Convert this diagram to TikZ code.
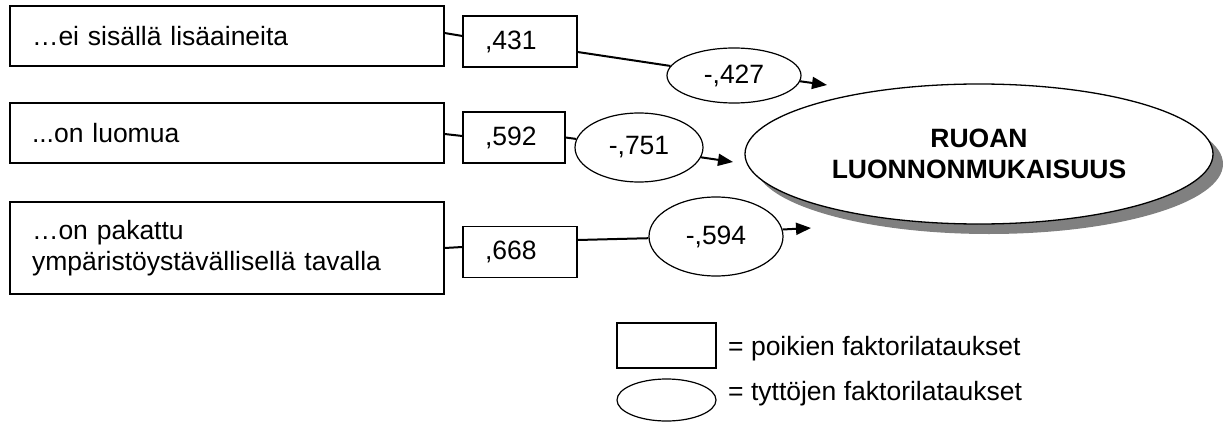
\documentclass[tikz,border=0pt]{standalone}
\usepackage{fontspec}
\setmainfont{Liberation Sans}
\usetikzlibrary{shapes.geometric,arrows.meta,shadows}
\begin{document}
\begin{tikzpicture}[x=1pt,y=-1pt,
  every node/.style={font=\fontsize{26.5}{31}\selectfont},
  itembox/.style={draw,line width=1.2pt,minimum width=434pt,inner xsep=22pt,
    text width=390pt,align=left,inner ysep=0pt},
  boybox/.style={draw,line width=1.2pt,minimum height=51pt,inner xsep=22pt,
    align=left,inner ysep=0pt},
  girlell/.style={draw,ellipse,line width=1.2pt,inner sep=0pt},
  link/.style={line width=2pt},
  path/.style={line width=2pt,-{Triangle[length=15pt,width=12pt]}}]
\useasboundingbox (0,0) rectangle (1225,425);

% statements
\node[itembox,minimum height=60pt] (b1) at (227,36) {…ei sisällä lisäaineita};
\node[itembox,minimum height=60pt] (b2) at (227,133) {...on luomua};
\node[itembox,minimum height=92pt] (b3) at (227,248) {…on pakattu\\ympäristöystävällisellä tavalla};

% boys' loadings
\node[boybox,minimum width=114pt,text width=70pt] (s1) at (520,41.5) {,431};
\node[boybox,minimum width=102pt,text width=58pt] (s2) at (514,137.5) {,592};
\node[boybox,minimum width=114pt,text width=70pt] (s3) at (520,252) {,668};

% girls' loadings
\node[girlell,minimum width=134pt,minimum height=55pt] (e1) at (734,75.5) {-,427};
\node[girlell,minimum width=128pt,minimum height=69pt] (e2) at (639,147.5) {-,751};
\node[girlell,minimum width=134pt,minimum height=79pt] (e3) at (716,236.5) {-,594};

% factor
\node[draw,ellipse,line width=1.3pt,fill=white,inner sep=0pt,
  minimum width=468pt,minimum height=140pt,align=center,
  font=\fontsize{26.5}{31}\selectfont\bfseries,
  drop shadow={shadow xshift=10pt,shadow yshift=-10pt,fill=black!50,opacity=1}]
  (f) at (979,154) {RUOAN\\LUONNONMUKAISUUS};

% arrow ends
\coordinate (t1) at (827,85);
\coordinate (t2) at (733,162);
\coordinate (t3) at (811,228);

\draw[link] ([yshift=3pt]b1.east) -- ([yshift=5.5pt]s1.west);
\draw[link] ([yshift=-1pt]b2.east) -- ([yshift=1.5pt]s2.west);
\draw[link] (b3.east) -- ([yshift=5pt]s3.west);

\draw[link] ([yshift=-10.5pt]s1.east) -- (e1);
\draw[link] (s2.east) -- (e2);
\draw[link] ([yshift=12pt]s3.east) -- (e3);

\draw[path] (e1.-5) -- (t1);
\draw[path] (e2.-9) -- (t2);
\draw[path] (e3.6) -- (t3);

% legend
\node[draw,line width=1.2pt,minimum width=99pt,minimum height=45pt] (lr) at (666.5,345.5) {};
\node[girlell,minimum width=99pt,minimum height=42pt] (le) at (666.5,400) {};
\node[anchor=base west,inner sep=0pt] (lrt) at (728,355) {= poikien faktorilataukset};
\node[anchor=base west,inner sep=0pt] (let) at (728,400) {= tyttöjen faktorilataukset};
\end{tikzpicture}
\end{document}
